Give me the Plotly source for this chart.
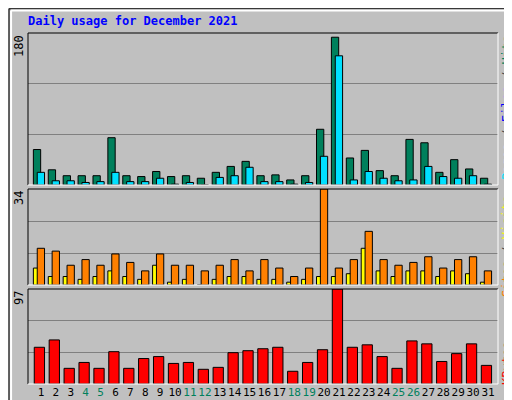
import plotly.graph_objects as go

days = list(range(1, 32))
weekend = [4, 5, 11, 12, 18, 19, 25, 26]

hits = [42, 18, 11, 11, 11, 56, 11, 10, 16, 10, 11, 8, 15, 22, 28, 11,
        12, 6, 11, 66, 175, 32, 41, 17, 11, 54, 50, 15, 30, 19, 8]
files = [15, 5, 5, 3, 4, 15, 4, 4, 8, 1, 3, 0, 9, 11, 21, 4,
         4, 1, 3, 34, 153, 6, 16, 8, 5, 6, 22, 10, 8, 11, 1]
sites = [13, 12, 7, 9, 7, 11, 8, 5, 11, 7, 7, 5, 7, 9, 5, 9,
         6, 3, 6, 34, 6, 9, 19, 9, 7, 8, 10, 6, 9, 10, 5]
visits = [6, 3, 3, 2, 3, 5, 3, 2, 7, 1, 2, 0, 2, 3, 3, 2,
          2, 1, 2, 3, 3, 4, 13, 5, 3, 5, 5, 3, 5, 4, 1]
kbytes = [37.5, 45, 16, 22, 16, 33, 16, 26, 28, 21, 22, 15, 17, 32, 34, 36,
          37.5, 13, 22, 35, 97, 37.5, 40, 28, 16, 44, 41, 23, 31, 41, 19]

mono = "DejaVu Sans Mono"
line = dict(color="black", width=1)

fig = go.Figure()
fig.add_bar(x=days, y=hits, width=0.49, offset=-0.51, marker=dict(color="#00805C", line=line),
            xaxis="x", yaxis="y")
fig.add_bar(x=days, y=files, width=0.49, offset=-0.25, marker=dict(color="#00E0FF", line=line),
            xaxis="x", yaxis="y")
fig.add_bar(x=days, y=visits, width=0.49, offset=-0.51, marker=dict(color="#FFFF00", line=line),
            xaxis="x2", yaxis="y2")
fig.add_bar(x=days, y=sites, width=0.49, offset=-0.25, marker=dict(color="#FF8000", line=line),
            xaxis="x2", yaxis="y2")
fig.add_bar(x=days, y=kbytes, width=0.69, offset=-0.45, marker=dict(color="#FF0000", line=line),
            xaxis="x3", yaxis="y3")

xdom = [20 / 512, 490 / 512]
xr = [0.13, 31.67]
ticktext = [f"<span style='color:#00805C'>{d}</span>" if d in weekend else str(d) for d in days]
yax = dict(showticklabels=False, showgrid=True, gridcolor="#808080", gridwidth=1,
           zeroline=False, showline=False, fixedrange=True, automargin=False)
xax = dict(range=xr, domain=xdom, showgrid=False, zeroline=False, showticklabels=False,
           fixedrange=True, automargin=False)

fig.update_layout(
    width=512, height=400, margin=dict(l=0, r=0, t=0, b=0, autoexpand=False),
    paper_bgcolor="#C0C0C0", plot_bgcolor="#C0C0C0",
    barmode="overlay", showlegend=False,
    font=dict(family=mono, size=12, color="black"),
    xaxis=dict(xax, anchor="y"),
    xaxis2=dict(xax, anchor="y2"),
    xaxis3=dict(xax, anchor="y3", showticklabels=True, tickvals=days, ticktext=ticktext,
                ticks="", tickangle=0, tickfont=dict(family=mono, size=11)),
    yaxis=dict(yax, domain=[0.5575, 0.9375], range=[0, 180], tickvals=[60, 120]),
    yaxis2=dict(yax, domain=[0.3075, 0.5475], range=[0, 34], tickvals=[34 / 3, 68 / 3]),
    yaxis3=dict(yax, domain=[0.06, 0.2975], range=[0, 97], tickvals=[97 / 3, 194 / 3]),
)

annots = [
    dict(x=0.0, y=0.99, xref="paper", yref="paper", xanchor="left", yanchor="top",
         text="<b>Daily usage for December 2021</b>", showarrow=False,
         font=dict(family=mono, size=12, color="#0000FF"), xshift=18),
    dict(x=xdom[0], y=0.9375, text="180", yanchor="top"),
    dict(x=xdom[0], y=0.5475, text="34", yanchor="top"),
    dict(x=xdom[0], y=0.2975, text="97", yanchor="top"),
]
for a in annots[1:]:
    a.update(xref="paper", yref="paper", xanchor="right", showarrow=False, textangle=-90,
             font=dict(family=mono, size=12, color="black"))

side = [
    (100, "<span style='color:#00E0FF'>Pages</span> / <span style='color:#0000FF'>Files</span> / <span style='color:#00805C'>Hits</span>"),
    (239, "<span style='color:#FF8000'>Sites</span> / <span style='color:#FFFF00'>Visits</span>"),
    (356, "<span style='color:#FF0000'>KBytes</span>"),
]
for ypx, txt in side:
    annots.append(dict(x=499 / 512, y=1 - ypx / 400, xref="paper", yref="paper",
                       xanchor="center", yanchor="middle",
                       text=txt, showarrow=False, textangle=-90,
                       font=dict(family=mono, size=12, color="#404040")))
fig.update_layout(annotations=annots)

shapes = [
    dict(type="rect", xref="paper", yref="paper", x0=0.002, y0=0.002, x1=0.998, y1=0.998,
         line=dict(color="black", width=1)),
    dict(type="line", xref="paper", yref="paper", x0=0.006, y0=0.994, x1=0.992, y1=0.994,
         line=dict(color="white", width=2)),
    dict(type="line", xref="paper", yref="paper", x0=0.006, y0=0.994, x1=0.006, y1=0.012,
         line=dict(color="white", width=2)),
    dict(type="line", xref="paper", yref="paper", x0=0.006, y0=0.012, x1=0.992, y1=0.012,
         line=dict(color="#808080", width=3)),
    dict(type="line", xref="paper", yref="paper", x0=0.992, y0=0.994, x1=0.992, y1=0.012,
         line=dict(color="#808080", width=3)),
]
for y0, y1 in [(0.5575, 0.9375), (0.3075, 0.5475), (0.06, 0.2975)]:
    shapes += [
        dict(type="line", xref="paper", yref="paper", x0=xdom[0], y0=y1, x1=xdom[1], y1=y1,
             line=dict(color="black", width=1)),
        dict(type="line", xref="paper", yref="paper", x0=xdom[0], y0=y0, x1=xdom[0], y1=y1,
             line=dict(color="black", width=1)),
        dict(type="line", xref="paper", yref="paper", x0=xdom[0], y0=y0, x1=xdom[1], y1=y0,
             line=dict(color="white", width=1)),
        dict(type="line", xref="paper", yref="paper", x0=xdom[1], y0=y0, x1=xdom[1], y1=y1,
             line=dict(color="white", width=1)),
    ]
fig.update_layout(shapes=shapes)

fig.write_html("out.html")
